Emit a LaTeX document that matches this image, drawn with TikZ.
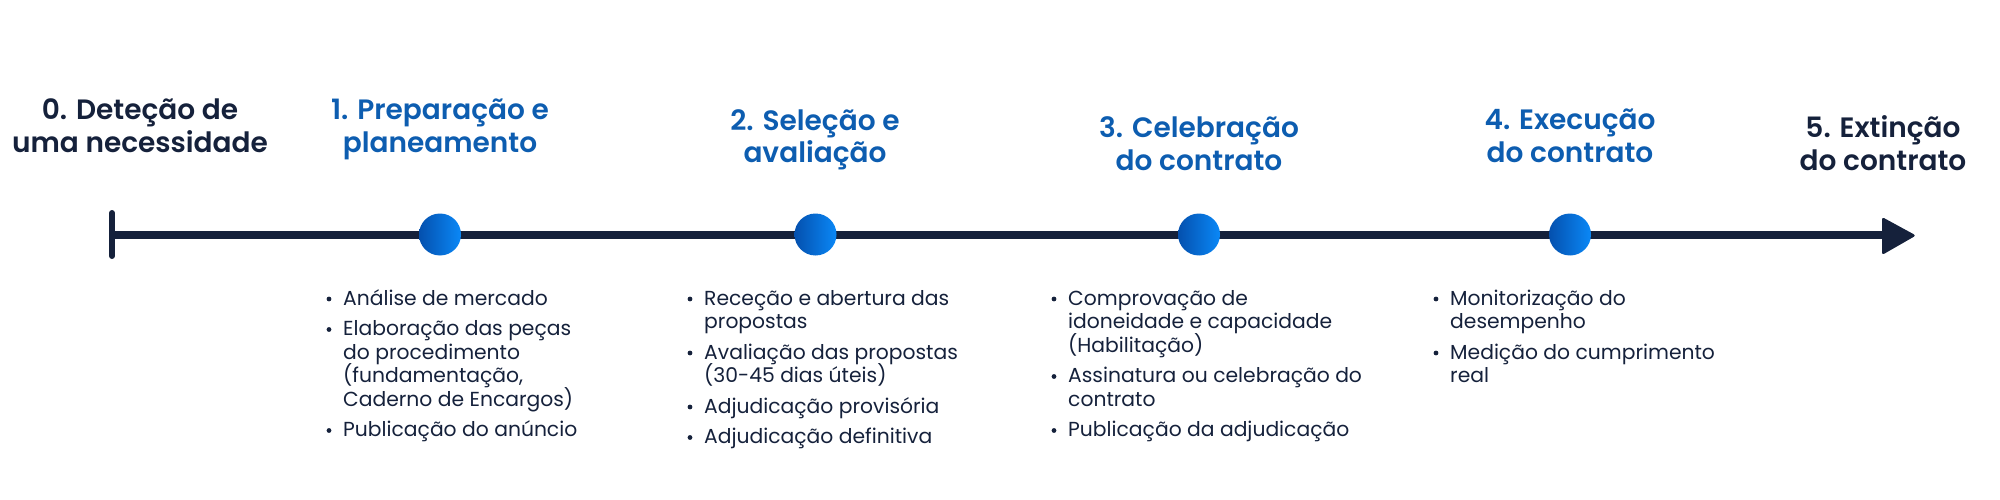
\documentclass[tikz,border=0pt]{standalone}
\usepackage{fontspec}
\setmainfont{Poppins}
\newfontfamily\semib{Poppins SemiBold}
\definecolor{navy}{HTML}{15213B}
\definecolor{tblue}{HTML}{0D5DB0}
\definecolor{cleft}{HTML}{0450AE}
\definecolor{cright}{HTML}{0A88F7}
\tikzset{
  ttl/.style={font=\semib\fontsize{28}{33}\selectfont, anchor=base, inner sep=0pt},
  ttlnavy/.style={ttl, text=navy},
  ttlblue/.style={ttl, text=tblue},
  body/.style={font=\fontsize{20.3}{24}\selectfont, text=navy, anchor=base west, inner sep=0pt},
  bdot/.style={circle, fill=navy, inner sep=0pt, minimum size=4.8pt},
  stage/.style={circle, inner sep=0pt, minimum size=42pt, left color=cleft, right color=cright},
}
\begin{document}
\begin{tikzpicture}[x=1pt,y=-1pt]
\useasboundingbox (0,0) rectangle (2000,500);
% titles
\node[ttlnavy] (t0a) at (140,120) {0. Deteção de};
\node[ttlnavy] (t0b) at (140,153) {uma necessidade};
\node[ttlblue] (t1a) at (440,120) {1. Preparação e};
\node[ttlblue] (t1b) at (440,153) {planeamento};
\node[ttlblue] (t2a) at (815,131) {2. Seleção e};
\node[ttlblue] (t2b) at (815,163) {avaliação};
\node[ttlblue] (t3a) at (1199,138) {3. Celebração};
\node[ttlblue] (t3b) at (1199,171) {do contrato};
\node[ttlblue] (t4a) at (1570,130) {4. Execução};
\node[ttlblue] (t4b) at (1570,163) {do contrato};
\node[ttlnavy] (t5a) at (1883,138) {5. Extinção};
\node[ttlnavy] (t5b) at (1883,171) {do contrato};
% timeline
\coordinate (tl0) at (112,234.5);
\coordinate (tlend) at (1886,234.5);
\coordinate (tickt) at (112,213);
\coordinate (tickb) at (112,256);
\draw[navy, line width=8pt] (tl0) -- (tlend);
\draw[navy, line width=6pt, line cap=round] (tickt) -- (tickb);
\fill[navy, rounded corners=2.5pt] (1882,236) -- (1882,217) -- (1916,235.5) -- (1882,255) -- cycle;
\node[stage] (s1) at (440,234.5) {};
\node[stage] (s2) at (815.5,234.5) {};
\node[stage] (s3) at (1199,234.5) {};
\node[stage] (s4) at (1570,234.5) {};
% column 1
\node[bdot] (b11) at (329,299) {};
\node[body] (c1a) at (343,305) {Análise de mercado};
\node[bdot] (b12) at (329,329.5) {};
\node[body] (c1b) at (343,335.5) {Elaboração das peças};
\node[body] (c1c) at (343,359) {do procedimento};
\node[body] (c1d) at (343,382.5) {(fundamentação,};
\node[body] (c1e) at (343,406) {Caderno de Encargos)};
\node[bdot] (b13) at (329,430.5) {};
\node[body] (c1f) at (343,436.5) {Publicação do anúncio};
% column 2
\node[bdot] (b21) at (690,299) {};
\node[body] (c2a) at (704,305) {Receção e abertura das};
\node[body] (c2b) at (704,328.5) {propostas};
\node[bdot] (b22) at (690,353) {};
\node[body] (c2c) at (704,359) {Avaliação das propostas};
\node[body] (c2d) at (704,382.5) {(30-45 dias úteis)};
\node[bdot] (b23) at (690,407) {};
\node[body] (c2e) at (704,413) {Adjudicação provisória};
\node[bdot] (b24) at (690,437.5) {};
\node[body] (c2f) at (704,443.5) {Adjudicação definitiva};
% column 3
\node[bdot] (b31) at (1054,299) {};
\node[body] (c3a) at (1068,305) {Comprovação de};
\node[body] (c3b) at (1068,328.5) {idoneidade e capacidade};
\node[body] (c3c) at (1068,352) {(Habilitação)};
\node[bdot] (b32) at (1054,376.5) {};
\node[body] (c3d) at (1068,382.5) {Assinatura ou celebração do};
\node[body] (c3e) at (1068,406) {contrato};
\node[bdot] (b33) at (1054,430.5) {};
\node[body] (c3f) at (1068,436.5) {Publicação da adjudicação};
% column 4
\node[bdot] (b41) at (1436,299) {};
\node[body] (c4a) at (1450,305) {Monitorização do};
\node[body] (c4b) at (1450,328.5) {desempenho};
\node[bdot] (b42) at (1436,353) {};
\node[body] (c4c) at (1450,359) {Medição do cumprimento};
\node[body] (c4d) at (1450,382.5) {real};
\end{tikzpicture}
\end{document}
